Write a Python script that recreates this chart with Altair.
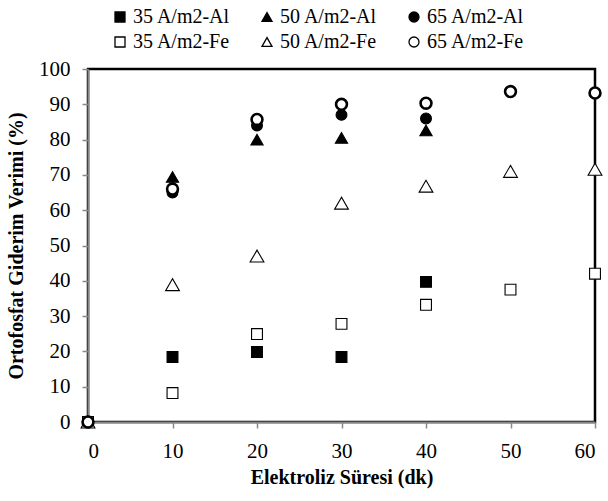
import altair as alt
import pandas as pd

series_names = ["35 A/m2-Al", "50 A/m2-Al", "65 A/m2-Al", "35 A/m2-Fe", "50 A/m2-Fe", "65 A/m2-Fe"]
times_al = [0, 10, 20, 30, 40]
times_fe = [0, 10, 20, 30, 40, 50, 60]
al35 = [0, 18.4, 19.8, 18.4, 39.7]
al50 = [0, 69.4, 80.0, 80.5, 82.6]
al65 = [0, 65.0, 84.0, 87.0, 86.0]
fe35 = [0, 8.2, 24.9, 27.8, 33.2, 37.5, 42.0]
fe50 = [0, 38.9, 47.0, 62.0, 66.8, 71.0, 71.6]
fe65 = [0, 66.0, 85.7, 90.0, 90.3, 93.6, 93.2]

rows = []
for name, xs, ys in [
    (series_names[0], times_al, al35),
    (series_names[1], times_al, al50),
    (series_names[2], times_al, al65),
    (series_names[3], times_fe, fe35),
    (series_names[4], times_fe, fe50),
    (series_names[5], times_fe, fe65),
]:
    for x, y in zip(xs, ys):
        rows.append({"series": name, "t": x, "v": y, "order": series_names.index(name)})
df = pd.DataFrame(rows)

FONT = "Liberation Serif"

shape_scale = alt.Scale(domain=series_names,
                        range=["square", "triangle-up", "circle", "square", "triangle-up", "circle"])
fill_scale = alt.Scale(domain=series_names,
                       range=["#000000", "#000000", "#000000", "#ffffff", "#ffffff", "#ffffff"])
stroke_scale = alt.Scale(domain=series_names, range=["#000000"] * 6)

legend = alt.Legend(
    title=None, orient="none", legendX=22, legendY=-62, columns=3, direction="horizontal",
    labelFont=FONT, labelFontSize=20, labelColor="#000000", symbolSize=100,
    columnPadding=26, rowPadding=5, labelOffset=3, gridAlign="all",
    labelLimit=300, symbolStrokeWidth=1.3,
)

axis_common = dict(
    grid=False, domainColor="#888888", domainWidth=2,
    tickColor="#888888", tickSize=6, tickWidth=1.5,
    labelFont=FONT, labelFontSize=21, labelColor="#000000", labelPadding=12,
    titleFont=FONT, titleFontSize=20, titleFontWeight="bold",
    titleColor="#000000",
)

size_enc = (
    alt.when(alt.datum.series == "50 A/m2-Fe").then(alt.value(190))
    .when(alt.datum.series == "50 A/m2-Al").then(alt.value(150))
    .otherwise(alt.value(118))
)
sw_enc = alt.when(alt.datum.series == "65 A/m2-Fe").then(alt.value(2.6)).otherwise(alt.value(1.1))

chart = alt.Chart(df).mark_point(filled=False, opacity=1).encode(
    x=alt.X("t:Q", scale=alt.Scale(domain=[0, 60], nice=False),
            axis=alt.Axis(title="Elektroliz Süresi (dk)", values=list(range(0, 61, 10)),
                          titlePadding=6, **axis_common)),
    y=alt.Y("v:Q", scale=alt.Scale(domain=[0, 100], nice=False),
            axis=alt.Axis(title="Ortofosfat Giderim Verimi (%)", values=list(range(0, 101, 10)),
                          titlePadding=12, **axis_common)),
    shape=alt.Shape("series:N", scale=shape_scale, legend=legend),
    fill=alt.Fill("series:N", scale=fill_scale, legend=legend),
    stroke=alt.Stroke("series:N", scale=stroke_scale, legend=legend),
    size=size_enc,
    strokeWidth=sw_enc,
    order=alt.Order("order:Q"),
).properties(
    width=507, height=353,
    autosize=alt.AutoSizeParams(type="none"),
    padding={"left": 88, "top": 69, "right": 13, "bottom": 79},
).configure(background="white", font=FONT).configure_view(stroke="#000000", strokeWidth=2.5)

chart.save("out.html", embed_options={"renderer": "svg", "actions": False})
